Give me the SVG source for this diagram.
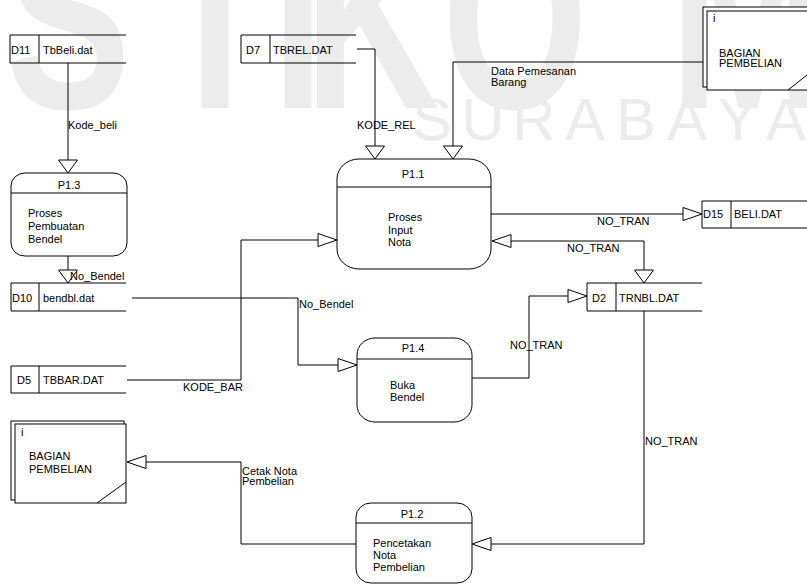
<svg xmlns="http://www.w3.org/2000/svg" width="807" height="584" viewBox="0 0 807 584">
<style>
.ln{fill:none;stroke:#000;stroke-width:1}
.ar{fill:#fff;stroke:#000;stroke-width:1}
.bx{fill:none;stroke:#000;stroke-width:1}
.ent{fill:#fff;stroke:#000;stroke-width:1}
.t{font-family:"Liberation Sans",Arial,sans-serif;font-size:11px;fill:#000}
.c{text-anchor:middle}
.wm{font-family:"Liberation Sans",Arial,sans-serif;fill:#ececec;text-anchor:middle}
.wb{font-size:260px;font-weight:bold}
.ws{font-size:60px}
</style>
<rect width="807" height="584" fill="#fff"/>
<g id="watermark">
<text class="wm wb" transform="translate(68,108) scale(0.72,1)">S</text>
<text class="wm wb" transform="translate(215,108) scale(0.72,1)">T</text>
<text class="wm wb" transform="translate(298,108) scale(0.72,1)">I</text>
<text class="wm wb" transform="translate(372,108) scale(0.72,1)">K</text>
<text class="wm wb" transform="translate(515,108) scale(0.72,1)">O</text>
<text class="wm wb" transform="translate(748,108) scale(0.72,1)">M</text>
<text class="wm ws" y="140"><tspan x="432">S</tspan><tspan x="483">U</tspan><tspan x="534">R</tspan><tspan x="585">A</tspan><tspan x="636">B</tspan><tspan x="687">A</tspan><tspan x="738">Y</tspan><tspan x="786">A</tspan></text>
</g>
<g id="connectors">
<path class="ln" d="M68,63V160"/>
<polygon class="ar" points="58.5,160 77.5,160 68,173"/>
<text class="t" x="68" y="129">Kode_beli</text>
<path class="ln" d="M68,256V270"/>
<polygon class="ar" points="58.5,270 77.5,270 68,283"/>
<text class="t" x="70" y="280">No_Bendel</text>
<path class="ln" d="M132,298H298V365H338"/>
<polygon class="ar" points="338,358.5 338,371.5 357,365"/>
<text class="t" x="299" y="308">No_Bendel</text>
<path class="ln" d="M472,378H529V296H568"/>
<polygon class="ar" points="568,289.5 568,302.5 587,296"/>
<text class="t" x="510" y="349">NO_TRAN</text>
<path class="ln" d="M127,380H241V240H318"/>
<polygon class="ar" points="318,233.5 318,246.5 337,240"/>
<text class="t" x="183" y="391">KODE_BAR</text>
<path class="ln" d="M357,49H375V146"/>
<polygon class="ar" points="365.5,146 384.5,146 375,159"/>
<text class="t" x="357" y="129">KODE_REL</text>
<path class="ln" d="M707,62H453V146"/>
<polygon class="ar" points="443.5,146 462.5,146 453,159"/>
<text class="t" x="491" y="75">Data Pemesanan</text>
<text class="t" x="491" y="86">Barang</text>
<path class="ln" d="M491,214H683"/>
<polygon class="ar" points="683,207.5 683,220.5 702,214"/>
<text class="t" x="597" y="225">NO_TRAN</text>
<path class="ln" d="M511,241H644V270"/>
<polygon class="ar" points="511,234.5 511,247.5 492,241"/>
<polygon class="ar" points="634.5,270 653.5,270 644,283"/>
<text class="t" x="567" y="252">NO_TRAN</text>
<path class="ln" d="M644,311V544H491"/>
<polygon class="ar" points="491,537.5 491,550.5 472,544"/>
<text class="t" x="645" y="445">NO_TRAN</text>
<path class="ln" d="M356,544H241V462H146"/>
<polygon class="ar" points="146,455.5 146,468.5 127,462"/>
<text class="t" x="242" y="475">Cetak Nota</text>
<text class="t" x="242" y="485">Pembelian</text>
</g>
<g id="D11">
<path class="bx" d="M126,35H10V63H126M39,35V63"/>
<text class="t" x="11" y="54">D11</text>
<text class="t" x="43" y="54">TbBeli.dat</text>
</g>
<g id="D7">
<path class="bx" d="M356,35H241V63H356M270,35V63"/>
<text class="t" x="246" y="54">D7</text>
<text class="t" x="273" y="54">TBREL.DAT</text>
</g>
<g id="D15">
<path class="bx" d="M807,201H702V228H807M731,201V228"/>
<text class="t" x="703" y="218">D15</text>
<text class="t" x="734" y="218">BELI.DAT</text>
</g>
<g id="D10">
<path class="bx" d="M126,283H11V311H126M39,283V311"/>
<text class="t" x="12" y="302">D10</text>
<text class="t" x="43" y="302">bendbl.dat</text>
</g>
<g id="D2">
<path class="bx" d="M702,283H587V311H702M616,283V311"/>
<text class="t" x="592" y="302">D2</text>
<text class="t" x="619" y="302">TRNBL.DAT</text>
</g>
<g id="D5">
<path class="bx" d="M126,366H11V393H126M39,366V393"/>
<text class="t" x="17" y="384">D5</text>
<text class="t" x="43" y="384">TBBAR.DAT</text>
</g>
<g id="P1.3">
<rect class="bx" x="11" y="173" width="116" height="83" rx="14" ry="13"/>
<path class="ln" d="M11,193H127"/>
<text class="t c" x="69" y="189">P1.3</text>
<text class="t" x="28" y="217">Proses</text>
<text class="t" x="28" y="230">Pembuatan</text>
<text class="t" x="28" y="243">Bendel</text>
</g>
<g id="P1.1">
<rect class="bx" x="337" y="159" width="154" height="110" rx="22" ry="20"/>
<path class="ln" d="M337,187H491"/>
<text class="t c" x="413" y="178">P1.1</text>
<text class="t" x="388" y="221">Proses</text>
<text class="t" x="388" y="234">Input</text>
<text class="t" x="388" y="246">Nota</text>
</g>
<g id="P1.4">
<rect class="bx" x="357" y="338" width="115" height="84" rx="18" ry="17"/>
<path class="ln" d="M357,359H472"/>
<text class="t c" x="413" y="352">P1.4</text>
<text class="t" x="390" y="389">Buka</text>
<text class="t" x="390" y="401">Bendel</text>
</g>
<g id="P1.2">
<rect class="bx" x="356" y="503" width="116" height="80" rx="15" ry="14"/>
<path class="ln" d="M356,523H472"/>
<text class="t c" x="412" y="518">P1.2</text>
<text class="t" x="373" y="547">Pencetakan</text>
<text class="t" x="373" y="559">Nota</text>
<text class="t" x="373" y="571">Pembelian</text>
</g>
<g id="E-top">
<rect class="ent" x="703" y="7" width="120" height="80"/>
<rect class="ent" x="707" y="11" width="120" height="79"/>
<path class="ln" d="M788,90L807,75"/>
<text class="t" x="713" y="22">i</text>
<text class="t" x="719" y="57">BAGIAN</text>
<text class="t" x="719" y="67">PEMBELIAN</text>
</g>
<g id="E-bottom">
<rect class="ent" x="11" y="421" width="113" height="79"/>
<rect class="ent" x="15" y="424" width="111" height="79"/>
<path class="ln" d="M97,503L126,482"/>
<text class="t" x="21" y="436">i</text>
<text class="t" x="29" y="460">BAGIAN</text>
<text class="t" x="29" y="473">PEMBELIAN</text>
</g>
</svg>
